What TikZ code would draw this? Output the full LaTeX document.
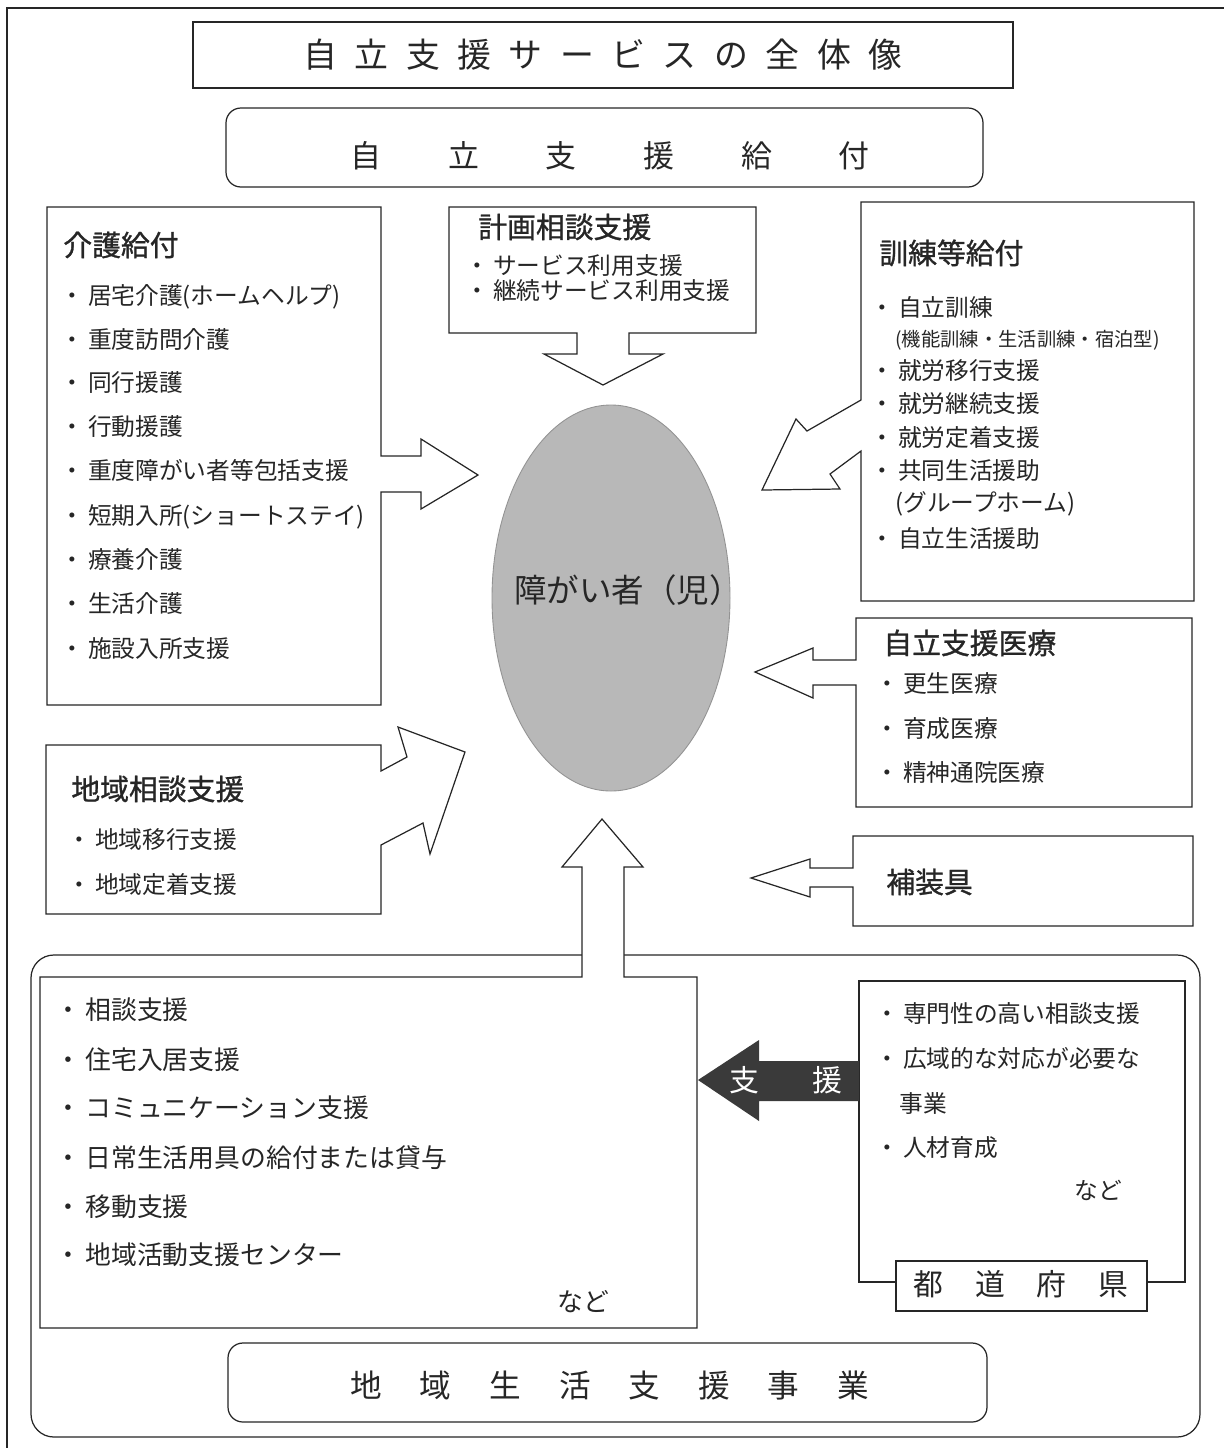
\documentclass[tikz,border=0pt]{standalone}
\usepackage{fontspec}
\setmainfont{Noto Sans CJK JP}

\definecolor{ink}{HTML}{262626}
\definecolor{egg}{HTML}{B8B8B8}
\definecolor{dark}{HTML}{3A3A3A}

\tikzset{
  frame/.style={draw=ink, line width=0.7pt, fill=white},
  head/.style={anchor=west, inner sep=0pt, text=ink, text height=14.4pt, text depth=2pt,
    font=\fontsize{16.4}{18}\selectfont\addfontfeature{FakeBold=1}},
  item/.style={anchor=west, inner sep=0pt, text=ink, text height=11.9pt, text depth=1.6pt,
    font=\fontsize{13.5}{16}\selectfont},
  bigitem/.style={item, text height=12.9pt, text depth=1.8pt, font=\fontsize{14.7}{17}\selectfont},
  small/.style={item, text height=9.7pt, text depth=1.3pt, font=\fontsize{11}{13}\selectfont}
}

\begin{document}
\begin{tikzpicture}[x=0.02cm, y=-0.02cm]
  \useasboundingbox (0,0) rectangle (1224,1448);
  \draw[ink, line width=0.7pt] (7,1448) -- (7,8) -- (1224,8);

  % titles
  \draw[frame] (193,22) rectangle (1013,88);
  \node[anchor=west, inner sep=0pt, text=ink, text height=17pt, text depth=2.3pt,
    font=\fontsize{19.3}{22}\selectfont\addfontfeature{LetterSpace=51.5}] (title) at (303,55) {自立支援サービスの全体像};
  \draw[frame, rounded corners=8.5pt] (226,108) rectangle (983,187);
  \node[anchor=west, inner sep=0pt, text=ink, text height=15.5pt, text depth=2.1pt,
    font=\fontsize{17.6}{20}\selectfont\addfontfeature{LetterSpace=216}] (kyufu) at (350,156) {自立支援給付};

  % care benefits
  \draw[frame] (47,207) -- (381,207) -- (381,456) -- (421,456) -- (421,439) -- (478,475)
    -- (421,509) -- (421,492) -- (381,492) -- (381,705) -- (47,705) -- cycle;
  \node[head] (kaigo) at (63,245) {介護給付};
  \node[item] (kaigo1) at (60,295) {・\,居宅介護(ホームヘルプ)};
  \node[item] (kaigo2) at (60,339) {・\,重度訪問介護};
  \node[item] (kaigo3) at (60,382) {・\,同行援護};
  \node[item] (kaigo4) at (60,426) {・\,行動援護};
  \node[item] (kaigo5) at (60,470) {・\,重度障がい者等包括支援};
  \node[item] (kaigo6) at (60,515) {・\,短期入所(ショートステイ)};
  \node[item] (kaigo7) at (60,559) {・\,療養介護};
  \node[item] (kaigo8) at (60,603) {・\,生活介護};
  \node[item] (kaigo9) at (60,648) {・\,施設入所支援};

  % planning consultation
  \draw[frame] (449,207) -- (756,207) -- (756,333) -- (629,333) -- (629,354) -- (663,354)
    -- (603,385) -- (544,354) -- (577,354) -- (577,333) -- (449,333) -- cycle;
  \node[head] (keikaku) at (478,227) {計画相談支援};
  \node[item] (keikaku1) at (465,265) {・\,サービス利用支援};
  \node[item] (keikaku2) at (465,290) {・\,継続サービス利用支援};

  % training benefits
  \draw[frame] (861,202) -- (1194,202) -- (1194,601) -- (861,601) -- (861,451) -- (830,474)
    -- (840,489) -- (762,490) -- (796,419) -- (807,431) -- (861,400) -- cycle;
  \node[head] (kunren) at (879,253) {訓練等給付};
  \node[item] (kunren1) at (870,307) {・\,自立訓練};
  \node[small] (kunren1b) at (895,339) {(機能訓練・生活訓練・宿泊型)};
  \node[item] (kunren2) at (870,370) {・\,就労移行支援};
  \node[item] (kunren3) at (870,403) {・\,就労継続支援};
  \node[item] (kunren4) at (870,437) {・\,就労定着支援};
  \node[item] (kunren5) at (870,470) {・\,共同生活援助};
  \node[item] (kunren5b) at (895,502) {(グループホーム)};
  \node[item] (kunren6) at (870,538) {・\,自立生活援助};

  % the person
  \draw[fill=egg, draw=egg!80!black, line width=0.5pt] (611,598) ellipse [x radius=119, y radius=193];
  \node[anchor=west, inner sep=0pt, text=ink, text height=16.3pt, text depth=2.2pt,
    font=\fontsize{18.5}{21}\selectfont] (person) at (514,590) {障がい者（児）};

  % medical care
  \draw[frame] (856,618) -- (1192,618) -- (1192,807) -- (856,807) -- (856,685) -- (813,685)
    -- (813,698) -- (755,672) -- (813,648) -- (813,660) -- (856,660) -- cycle;
  \node[head] (iryo) at (883,643) {自立支援医療};
  \node[item] (iryo1) at (875,683) {・\,更生医療};
  \node[item] (iryo2) at (875,728) {・\,育成医療};
  \node[item] (iryo3) at (875,772) {・\,精神通院医療};

  % devices
  \draw[frame] (853,836) -- (1193,836) -- (1193,926) -- (853,926) -- (853,887) -- (810,887)
    -- (810,897) -- (751,878) -- (810,859) -- (810,868) -- (853,868) -- cycle;
  \node[head] (hosogu) at (886,882) {補装具};

  % community consultation
  \draw[frame] (46,745) -- (381,745) -- (381,771) -- (407,757) -- (398,727) -- (465,752)
    -- (430,854) -- (423,823) -- (381,845) -- (381,914) -- (46,914) -- cycle;
  \node[head] (soudan) at (71,789) {地域相談支援};
  \node[item] (soudan1) at (67,839) {・\,地域移行支援};
  \node[item] (soudan2) at (67,884) {・\,地域定着支援};

  % community life support
  \draw[frame, rounded corners=13pt] (31,955) rectangle (1200,1437);
  \draw[frame] (40,977) -- (582,977) -- (582,867) -- (562,867) -- (602,819) -- (643,867)
    -- (624,867) -- (624,977) -- (697,977) -- (697,1328) -- (40,1328) -- cycle;
  \node[bigitem] (seikatsu1) at (55,1010) {・\,相談支援};
  \node[bigitem] (seikatsu2) at (55,1060) {・\,住宅入居支援};
  \node[bigitem] (seikatsu3) at (55,1108) {・\,コミュニケーション支援};
  \node[bigitem] (seikatsu4) at (55,1158) {・\,日常生活用具の給付または貸与};
  \node[bigitem] (seikatsu5) at (55,1207) {・\,移動支援};
  \node[bigitem] (seikatsu6) at (55,1255) {・\,地域活動支援センター};
  \node[bigitem] (seikatsu7) at (557,1302) {など};
  \draw[frame, rounded corners=8.5pt] (228,1343) rectangle (987,1422);
  \node[anchor=west, inner sep=0pt, text=ink, text height=15.8pt, text depth=2.2pt,
    font=\fontsize{18}{21}\selectfont\addfontfeature{LetterSpace=120}] (seikatsu) at (350,1386) {地域生活支援事業};

  % prefecture
  \draw[frame] (859,981) rectangle (1185,1282);
  \draw[frame] (896,1261) rectangle (1147,1311);
  \node[anchor=west, inner sep=0pt, text=ink, text height=15pt, text depth=2pt,
    font=\fontsize{17}{20}\selectfont\addfontfeature{LetterSpace=107}] (ken) at (913,1284) {都道府県};
  \node[item] (ken1) at (875,1013) {・\,専門性の高い相談支援};
  \node[item] (ken2) at (875,1058) {・\,広域的な対応が必要な};
  \node[item] (ken2b) at (899,1103) {事業};
  \node[item] (ken3) at (875,1147) {・\,人材育成};
  \node[item] (ken4) at (1074,1190) {など};
  \fill[dark] (859,1061) -- (759,1061) -- (759,1040) -- (698,1080) -- (759,1121) -- (759,1101)
    -- (859,1101) -- cycle;
  \node[anchor=west, inner sep=0pt, text=white, text height=15pt, text depth=2pt,
    font=\fontsize{17}{20}\selectfont\addfontfeature{LetterSpace=177}] (shien) at (729,1080) {支援};
\end{tikzpicture}
\end{document}
